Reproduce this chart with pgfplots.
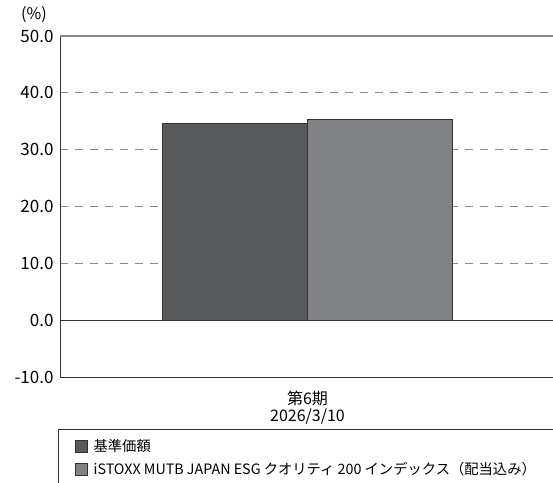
\documentclass[border=0pt]{standalone}
\usepackage{fontspec}
\setmainfont{Noto Sans CJK JP}
\usepackage{pgfplots}
\pgfplotsset{compat=1.18}

\definecolor{barA}{HTML}{58595B}
\definecolor{barB}{HTML}{808285}
\definecolor{gridc}{HTML}{8A8A8A}
\definecolor{linec}{HTML}{333333}

\begin{document}
\begin{tikzpicture}
\begin{axis}[
    at={(60pt,105pt)}, anchor=south west,
    scale only axis, width=495pt, height=341pt,
    xmin=-1, xmax=1, ymin=-10, ymax=50,
    clip=false,
    axis x line*=bottom, axis y line*=left,
    axis line style={linec, line width=0.8pt},
    major tick length=0pt,
    xtick={0}, xticklabels={{第6期\\2026/3/10}},
    xticklabel style={align=center, font=\fontsize{16}{17}\selectfont, yshift=-10pt},
    ytick={-10,0,...,50},
    /pgf/number format/assume math mode=true,
    yticklabel style={/pgf/number format/fixed, /pgf/number format/fixed zerofill,
        /pgf/number format/precision=1, font=\fontsize{17}{19}\selectfont, xshift=-3pt},
    ymajorgrids,
    major grid style={gridc, dash pattern=on 8pt off 7pt, line width=1pt},
    legend style={at={(0.03,-0.178)}, anchor=north west, draw=none, fill=none,
        font=\fontsize{14.3}{16}\selectfont, row sep=5pt, column sep=4pt, inner sep=0pt},
    legend cell align=left,
]
\addplot[ybar, bar width=145pt, bar shift=-72.5pt, fill=barA, draw=linec, line width=0.8pt,
    legend image code/.code={\draw[fill=barA, draw=linec, line width=0.6pt] (0pt,-6pt) rectangle (12pt,6pt);}]
    coordinates {(0,34.6)};
\addlegendentry{基準価額}
\addplot[ybar, bar width=145pt, bar shift=72.5pt, fill=barB, draw=linec, line width=0.8pt,
    legend image code/.code={\draw[fill=barB, draw=linec, line width=0.6pt] (0pt,-6pt) rectangle (12pt,6pt);}]
    coordinates {(0,35.3)};
\addlegendentry{iSTOXX MUTB JAPAN ESG クオリティ 200 インデックス（配当込み）}
\addplot[linec, line width=1pt, forget plot] coordinates {(-1,0) (1,0)};
\addplot[gridc, line width=1.2pt, forget plot] coordinates {(-1,50) (1,50)};
\end{axis}
\draw[linec, line width=0.8pt] (58pt,-30pt) |- (620pt,53pt);
\node[font=\fontsize{16}{18}\selectfont] at (34pt,467pt) {(\%)};
\pgfresetboundingbox
\path[use as bounding box] (0,0) rectangle (553pt,482pt);
\end{tikzpicture}
\end{document}
